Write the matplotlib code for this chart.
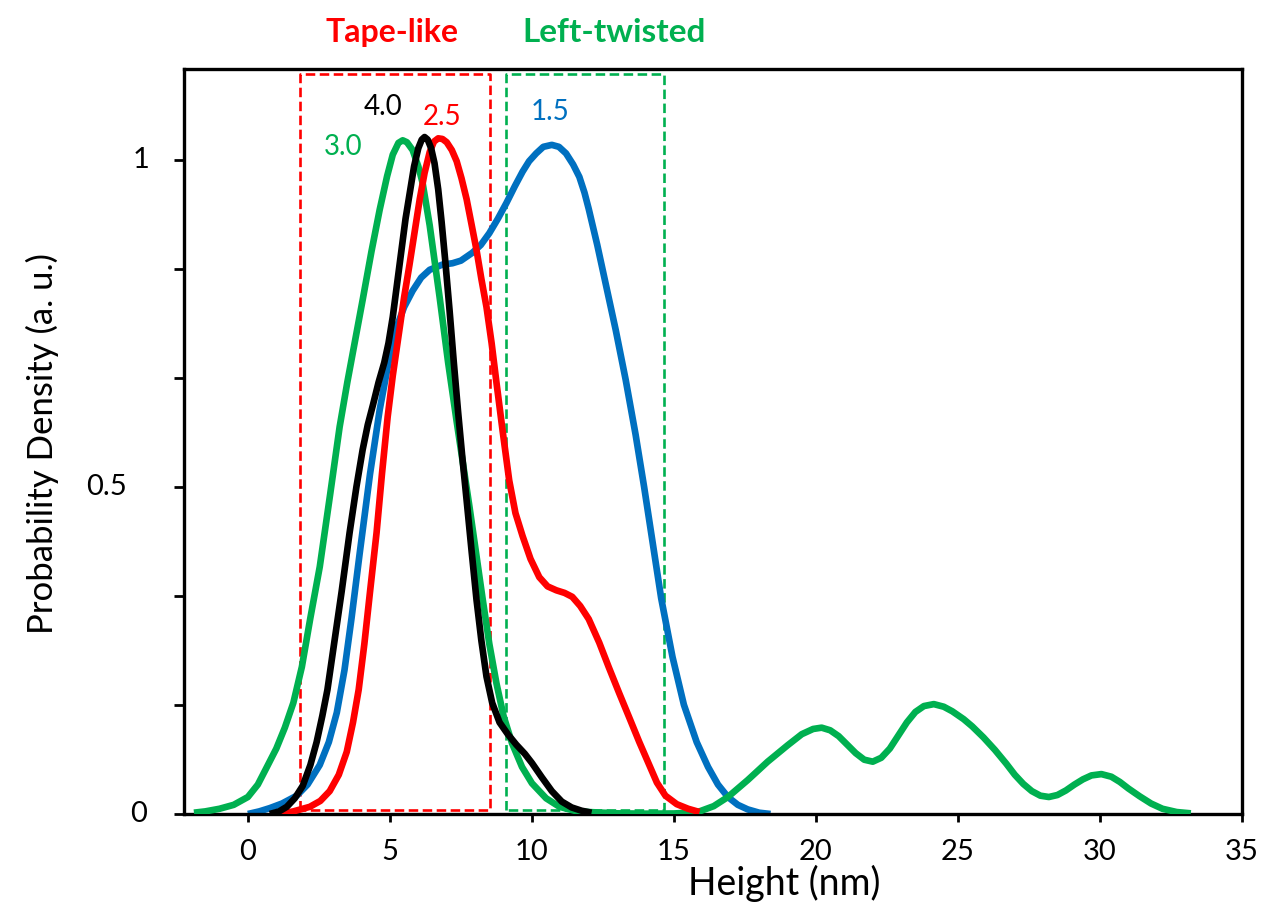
import matplotlib
matplotlib.use("Agg")
import matplotlib.pyplot as plt
import numpy as np

plt.rcParams['font.family'] = ['Lato', 'DejaVu Sans']

# height distributions (nm vs. normalised density), one per sample
h_30 = [-1.9, -1.5, -1.0, -0.5, 0.0, 0.35, 0.67, 1.0, 1.3, 1.6, 1.9, 2.2, 2.53, 2.9, 3.23, 3.5,
        3.8, 4.04, 4.35, 4.64, 4.9, 5.1, 5.3, 5.45, 5.6, 5.8, 6.0, 6.15, 6.4, 6.75, 7.05, 7.35,
        7.8, 8.26, 8.5, 8.75, 9.0, 9.3, 9.65, 10.0, 10.5, 10.97, 11.5, 12.0, 13.0, 14.0, 15.0,
        15.5, 15.9, 16.4, 16.9, 17.6, 18.3, 19.0, 19.5, 19.9, 20.2, 20.5, 20.8, 21.1, 21.4,
        21.7, 22.0, 22.3, 22.6, 22.9, 23.2, 23.5, 23.8, 24.15, 24.5, 24.8, 25.2, 25.5, 25.9,
        26.3, 26.7, 27.0, 27.3, 27.6, 27.9, 28.2, 28.5, 28.8, 29.1, 29.4, 29.7, 30.05, 30.4,
        30.7, 31.0, 31.4, 31.8, 32.2, 32.7, 33.2]
d_30 = [0.002, 0.004, 0.008, 0.014, 0.026, 0.045, 0.072, 0.1, 0.132, 0.17, 0.225, 0.3, 0.378,
        0.49, 0.592, 0.66, 0.73, 0.786, 0.86, 0.924, 0.975, 1.008, 1.026, 1.03, 1.027, 1.015,
        0.99, 0.965, 0.9, 0.79, 0.69, 0.6, 0.47, 0.33, 0.26, 0.2, 0.15, 0.108, 0.072, 0.047,
        0.024, 0.011, 0.005, 0.003, 0.001, 0.0005, 0.0008, 0.002, 0.004, 0.012, 0.026, 0.052,
        0.08, 0.105, 0.122, 0.13, 0.132, 0.128, 0.119, 0.106, 0.093, 0.083, 0.08, 0.086, 0.1,
        0.12, 0.14, 0.156, 0.165, 0.168, 0.164, 0.157, 0.145, 0.134, 0.117, 0.098, 0.077, 0.06,
        0.046, 0.035, 0.028, 0.026, 0.029, 0.036, 0.045, 0.053, 0.059, 0.061, 0.057, 0.049,
        0.039, 0.027, 0.016, 0.008, 0.003, 0.001]

h_15 = [0.0, 0.4, 0.77, 1.2, 1.72, 2.1, 2.53, 2.85, 3.13, 3.4, 3.65, 3.94, 4.3, 4.64, 4.95, 5.2,
        5.5, 5.8, 6.1, 6.4, 6.85, 7.2, 7.5, 7.9, 8.2, 8.5, 8.8, 9.1, 9.4, 9.67, 9.9, 10.15, 10.4,
        10.7, 10.95, 11.2, 11.45, 11.67, 11.85, 12.0, 12.3, 12.6, 12.95, 13.3, 13.65, 13.95,
        14.25, 14.55, 14.95, 15.35, 15.8, 16.2, 16.55, 16.9, 17.25, 17.6, 18.0, 18.4]
d_15 = [0.0, 0.004, 0.009, 0.016, 0.028, 0.045, 0.075, 0.11, 0.155, 0.22, 0.3, 0.4, 0.52, 0.618,
        0.69, 0.74, 0.775, 0.8, 0.82, 0.832, 0.84, 0.842, 0.846, 0.858, 0.87, 0.888, 0.91, 0.934,
        0.96, 0.982, 0.998, 1.01, 1.02, 1.023, 1.02, 1.01, 0.993, 0.974, 0.95, 0.925, 0.87, 0.81,
        0.74, 0.664, 0.58, 0.5, 0.415, 0.33, 0.24, 0.167, 0.11, 0.072, 0.045, 0.026, 0.014,
        0.007, 0.002, 0.0]

h_25 = [1.12, 1.6, 2.18, 2.55, 2.88, 3.2, 3.48, 3.7, 3.9, 4.1, 4.3, 4.53, 4.72, 4.92, 5.1, 5.3,
        5.5, 5.69, 5.87, 6.05, 6.22, 6.4, 6.55, 6.7, 6.85, 7.0, 7.18, 7.35, 7.52, 7.7, 7.88,
        8.05, 8.22, 8.4, 8.58, 8.75, 8.97, 9.2, 9.42, 9.67, 9.95, 10.26, 10.55, 10.86, 11.15,
        11.42, 11.7, 12.0, 12.37, 12.7, 13.07, 13.45, 13.78, 14.1, 14.4, 14.7, 15.1, 15.5, 15.9]
d_25 = [0.0, 0.004, 0.011, 0.02, 0.035, 0.06, 0.095, 0.14, 0.19, 0.26, 0.34, 0.43, 0.52, 0.607,
        0.67, 0.73, 0.79, 0.84, 0.89, 0.94, 0.98, 1.012, 1.028, 1.033, 1.032, 1.027, 1.015,
        0.998, 0.972, 0.94, 0.9, 0.862, 0.818, 0.775, 0.72, 0.66, 0.585, 0.51, 0.46, 0.425,
        0.39, 0.362, 0.348, 0.342, 0.338, 0.332, 0.318, 0.298, 0.262, 0.225, 0.185, 0.145,
        0.11, 0.078, 0.048, 0.028, 0.015, 0.008, 0.003]

h_40 = [0.77, 1.1, 1.37, 1.65, 1.93, 2.2, 2.42, 2.62, 2.8, 3.0, 3.3, 3.58, 3.82, 4.04, 4.22,
        4.4, 4.6, 4.8, 4.95, 5.1, 5.25, 5.4, 5.55, 5.7, 5.85, 6.0, 6.12, 6.22, 6.33, 6.45, 6.57,
        6.7, 6.82, 6.95, 7.1, 7.25, 7.4, 7.55, 7.7, 7.88, 8.05, 8.22, 8.4, 8.6, 8.86, 9.15, 9.45,
        9.75, 10.0, 10.35, 10.7, 11.05, 11.4, 11.75, 12.1]
d_40 = [0.0, 0.004, 0.011, 0.024, 0.043, 0.075, 0.11, 0.15, 0.19, 0.25, 0.34, 0.43, 0.5, 0.557,
        0.595, 0.625, 0.66, 0.69, 0.72, 0.76, 0.81, 0.86, 0.91, 0.95, 0.99, 1.018, 1.031, 1.035,
        1.031, 1.018, 0.995, 0.955, 0.905, 0.845, 0.77, 0.69, 0.615, 0.545, 0.48, 0.4, 0.327,
        0.265, 0.21, 0.17, 0.14, 0.122, 0.106, 0.092, 0.078, 0.056, 0.035, 0.019, 0.01, 0.005,
        0.002]

# regions: (x0, x1) in nm
tape_box = (1.85, 8.54)
twist_box = (9.07, 14.65)
box_y = (0.006, 1.131)

green = '#00B050'
blue = '#0070C0'
red = '#FF0000'

fig = plt.figure(figsize=(12.64, 9.05), dpi=100)
ax = fig.add_axes([184 / 1264, 91 / 905, 1058 / 1264, 745 / 905])

for x0, x1, c in [(tape_box[0], tape_box[1], red), (twist_box[0], twist_box[1], green)]:
    ax.plot([x0, x0, x1, x1, x0], [box_y[0], box_y[1], box_y[1], box_y[0], box_y[0]],
            color=c, lw=1.9, dashes=(3.6, 1.7), zorder=1)

lw = 4.8
style = dict(lw=lw, solid_joinstyle='round', solid_capstyle='butt')
ax.plot(h_15, d_15, color=blue, zorder=2, **style)
ax.plot(h_30, d_30, color=green, zorder=3, **style)
ax.plot(h_25, d_25, color=red, zorder=4, **style)
ax.plot(h_40, d_40, color='black', zorder=5, **style)

ax.set_xlim(-2.25, 35)
ax.set_ylim(0, 1.139)

ax.set_xticks(np.arange(0, 36, 5))
ax.tick_params(axis='x', direction='out', length=6, width=2, labelsize=21, pad=12)
ax.set_yticks(np.arange(7) / 6)
ax.set_yticklabels([])
ax.tick_params(axis='y', direction='out', length=7.5, width=2)

for s in ax.spines.values():
    s.set_linewidth(2.4)

# y labels sit at hand-placed horizontal offsets
ytrans = ax.get_yaxis_transform()
for val, txt, xc in [(0, '0', -0.0425), (0.5, '0.5', -0.0737), (1, '1', -0.0406)]:
    ax.text(xc, val, txt, transform=ytrans, ha='center', va='center', fontsize=21)

fig.text(784 / 1264, 1 - 895 / 905, 'Height (nm)', ha='center', va='baseline', fontsize=27)
fig.text(42 / 1264, 1 - 443 / 905, 'Probability Density (a. u.)', rotation=90,
         ha='center', va='center', fontsize=25)

fig.text(392 / 1264, 1 - 42 / 905, 'Tape-like', ha='center', va='baseline',
         fontsize=23, fontweight='bold', color=red)
fig.text(614 / 1264, 1 - 42 / 905, 'Left-twisted', ha='center', va='baseline',
         fontsize=24, fontweight='bold', color=green)

# sample labels next to each peak
for x, y, txt, c in [(4.75, 1.069, '4.0', 'black'), (6.83, 1.054, '2.5', red),
                     (3.37, 1.008, '3.0', green), (10.65, 1.061, '1.5', blue)]:
    ax.text(x, y, txt, color=c, ha='center', va='baseline', fontsize=20)

fig.savefig('out.png', dpi=100)
